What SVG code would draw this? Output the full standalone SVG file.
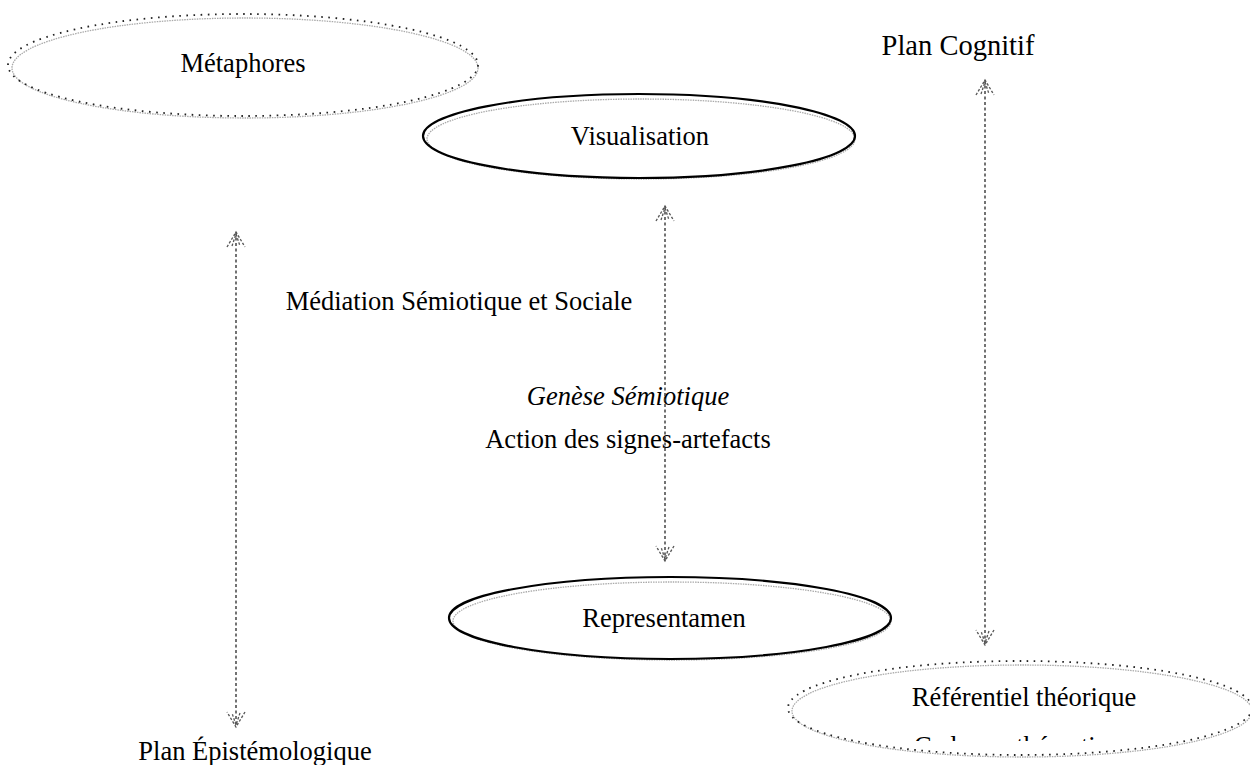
<svg xmlns="http://www.w3.org/2000/svg" width="1250" height="765" viewBox="0 0 1250 765">
<style>
.t{font-family:"Liberation Serif","Times New Roman",serif;font-size:26.5px;fill:#000}
.i{font-style:italic}
.big{font-size:28.5px}
.sh{fill:none;stroke:#aaa;stroke-width:1.3;stroke-dasharray:1.5 1}
.solid{fill:none;stroke:#000;stroke-width:2.2}
.dot{fill:none;stroke:#222;stroke-width:1.8;stroke-dasharray:1.6 5.5}
.con{fill:none;stroke:#444;stroke-width:1.5;stroke-dasharray:3 2.5}
.hd{fill:none;stroke:#555;stroke-width:1.3;stroke-dasharray:2.5 1.8}
</style>
<defs>
<marker id="ah" viewBox="-20 -12 24 24" markerWidth="24" markerHeight="24" refX="0" refY="0" orient="auto-start-reverse" markerUnits="userSpaceOnUse">
<path class="hd" d="M-15,-9 L0,0 L-15,9 M-14,-4 L-2,0 L-14,4"/>
</marker>
<clipPath id="clipR"><rect x="780" y="600" width="470" height="141"/></clipPath>
</defs>
<g id="metaphores">
<ellipse class="sh" cx="245" cy="68" rx="233" ry="50"/>
<ellipse class="dot" cx="243" cy="65" rx="235" ry="51"/>
<text class="t" x="243" y="72" text-anchor="middle">Métaphores</text>
</g>
<g id="visualisation">
<ellipse class="sh" cx="641" cy="139" rx="214" ry="40"/>
<ellipse class="solid" cx="639" cy="136" rx="216" ry="42"/>
<text class="t" x="640" y="145" text-anchor="middle">Visualisation</text>
</g>
<g id="representamen">
<ellipse class="sh" cx="672" cy="621" rx="219" ry="39"/>
<ellipse class="solid" cx="670" cy="618" rx="221" ry="41"/>
<text class="t" x="664" y="627" text-anchor="middle">Representamen</text>
</g>
<g id="referentiel">
<ellipse class="sh" cx="1022" cy="711" rx="230" ry="46"/>
<ellipse class="dot" cx="1020" cy="708" rx="232" ry="47"/>
<text class="t" x="1024" y="706" text-anchor="middle">Référentiel théorique</text>
<text class="t" x="1024" y="755" text-anchor="middle" clip-path="url(#clipR)">Cadre mathématique</text>
</g>
<g id="plan-cognitif"><text class="t big" x="958" y="55" text-anchor="middle">Plan Cognitif</text></g>
<g id="plan-epistemologique"><text class="t" x="255" y="760" text-anchor="middle">Plan Épistémologique</text></g>
<g id="mediation"><text class="t" x="459" y="310" text-anchor="middle">Médiation Sémiotique et Sociale</text></g>
<g id="genese"><text class="t i" x="628" y="405" text-anchor="middle">Genèse Sémiotique</text>
<text class="t" x="628" y="448" text-anchor="middle">Action des signes-artefacts</text></g>
<g id="connectors">
<line class="con" x1="236" y1="232" x2="236" y2="727" marker-start="url(#ah)" marker-end="url(#ah)"/>
<line class="con" x1="665" y1="206" x2="665" y2="561" marker-start="url(#ah)" marker-end="url(#ah)"/>
<line class="con" x1="985" y1="80" x2="985" y2="645" marker-start="url(#ah)" marker-end="url(#ah)"/>
</g>
</svg>
